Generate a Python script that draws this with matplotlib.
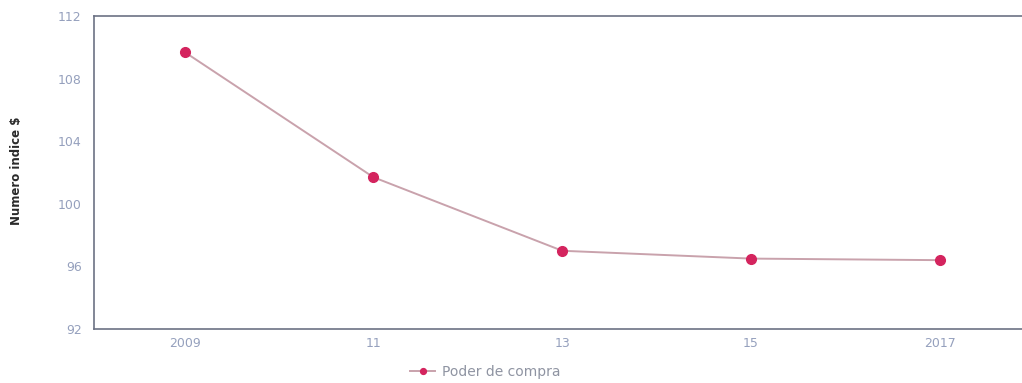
import matplotlib
matplotlib.use("Agg")
import matplotlib.pyplot as plt

# Purchasing power index by year
years = [2009, 2011, 2013, 2015, 2017]
year_labels = ["2009", "11", "13", "15", "2017"]
poder_compra = [109.7, 101.7, 97.0, 96.5, 96.4]
y_ticks = [92, 96, 100, 104, 108, 112]

fig = plt.figure(figsize=(10.22, 3.83), dpi=100)
ax = fig.add_axes([0.092, 0.141, 0.908, 0.817])

line, = ax.plot(years, poder_compra, color="#c9a2ac", linewidth=1.4,
                marker="o", markersize=7, markerfacecolor="#d4245e",
                markeredgecolor="#d4245e", label="Poder de compra")

ax.set_xlim(2008.04, 2017.87)
ax.set_ylim(92, 112)
ax.set_xticks(years)
ax.set_xticklabels(year_labels)
ax.set_yticks(y_ticks)
ax.set_yticklabels([str(v) for v in y_ticks])

ax.tick_params(axis="both", length=0, labelsize=9, labelcolor="#95a0bd")
ax.tick_params(axis="y", pad=9)
ax.tick_params(axis="x", pad=6)
for side in ("left", "top", "bottom"):
    ax.spines[side].set_color("#6c7284")
    ax.spines[side].set_linewidth(1.2)
ax.spines["right"].set_visible(False)

ax.set_ylabel("Numero indice $", fontsize=8.5, color="#2a2a2a",
              fontweight="bold")
ax.yaxis.set_label_coords(-0.077, 0.505)

fig.legend(handles=[line], loc="center", bbox_to_anchor=(0.475, 0.03),
           frameon=False, fontsize=10, labelcolor="#8f94a2",
           handlelength=1.8, handletextpad=0.5, markerscale=0.6)

fig.savefig("out.png", dpi=100)
